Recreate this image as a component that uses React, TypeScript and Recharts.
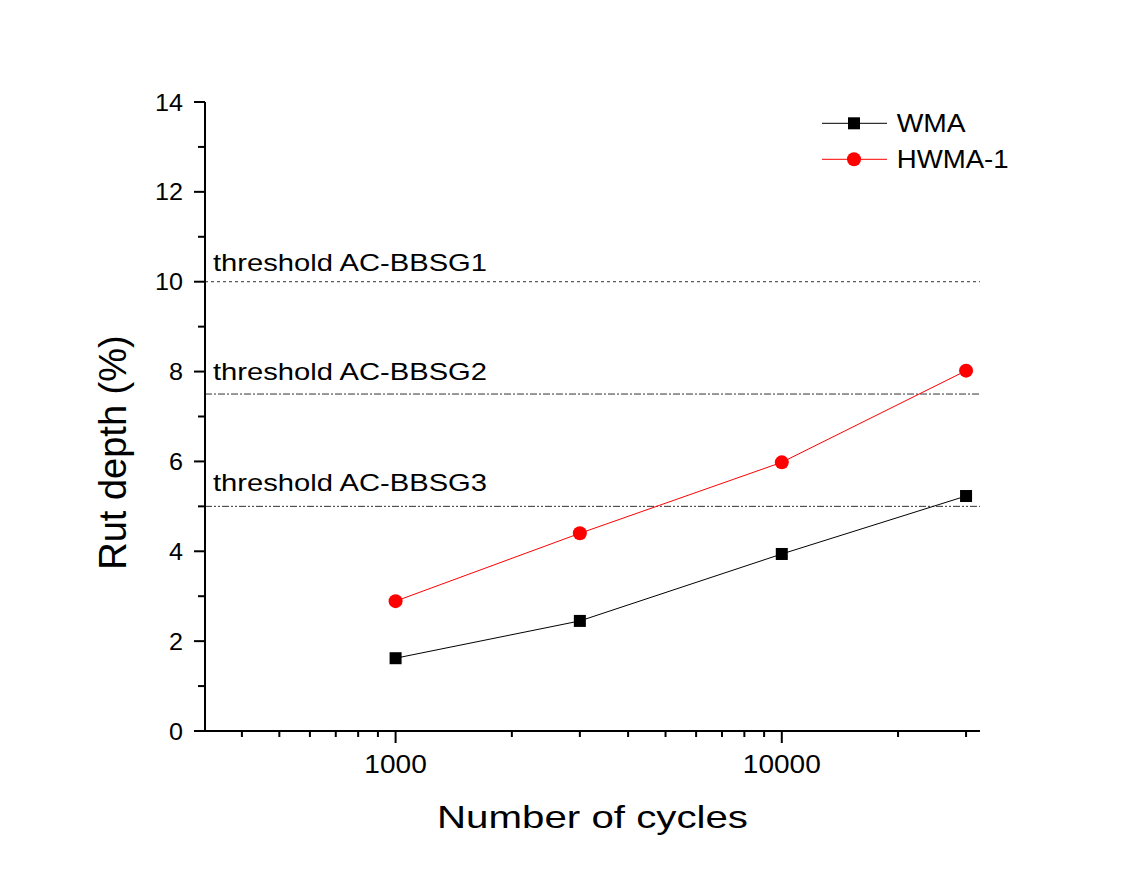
import React from 'react';
import { LineChart, Line, XAxis, YAxis, ReferenceLine } from 'recharts';

// rut depth vs load cycles
const cycles = [1000, 3000, 10000, 30000];
const wmaDepth = [1.62, 2.45, 3.94, 5.23];
const hwmaDepth = [2.89, 4.4, 5.98, 8.02];

const xMajorTicks = [1000, 10000];
const xMinorTicks = [400, 500, 600, 700, 800, 900, 2000, 3000, 4000, 5000, 6000, 7000, 8000, 9000, 20000, 30000];
const yTicks = [0, 1, 2, 3, 4, 5, 6, 7, 8, 9, 10, 11, 12, 13, 14];

const thresholdValues = [10, 7.5, 5];
const thresholdLabels = ['threshold AC-BBSG1', 'threshold AC-BBSG2', 'threshold AC-BBSG3'];

const FONT = '"Liberation Sans", Arial, sans-serif';
const thresholdDash = ['3 3', '7 2 2 2', '7 2 2 2 2 2'];
const thresholdLift = [11, 14, 15];

const data = cycles.map((c, i) => ({ cycles: c, WMA: wmaDepth[i], 'HWMA-1': hwmaDepth[i] }));

const XTick = (props: any) => {
  const { x, y, payload } = props;
  const major = xMajorTicks.includes(payload.value);
  const label = String(payload.value);
  return (
    <g>
      <line x1={x} x2={x} y1={y} y2={y + (major ? 12 : 6)} stroke="#000" strokeWidth={2} />
      {major && (
        <text
          x={x}
          y={y + 42}
          textAnchor="middle"
          fontFamily={FONT}
          fontSize={25}
          textLength={label.length * 15.6}
          lengthAdjust="spacingAndGlyphs"
          fill="#000"
        >
          {label}
        </text>
      )}
    </g>
  );
};

const YTick = (props: any) => {
  const { x, y, payload } = props;
  const major = payload.value % 2 === 0;
  const label = String(payload.value);
  return (
    <g>
      <line x1={x - (major ? 11 : 7)} x2={x} y1={y} y2={y} stroke="#000" strokeWidth={2} />
      {major && (
        <text
          x={x - 22}
          y={y + 8.6}
          textAnchor="end"
          fontFamily={FONT}
          fontSize={24}
          textLength={label.length * 14}
          lengthAdjust="spacingAndGlyphs"
          fill="#000"
        >
          {label}
        </text>
      )}
    </g>
  );
};

const squareDot = (props: any) => (
  <rect key={`sq-${props.index}`} x={props.cx - 6} y={props.cy - 6} width={12} height={12} fill="#000" />
);

const circleDot = (props: any) => (
  <circle key={`ci-${props.index}`} cx={props.cx} cy={props.cy} r={7} fill="#ff0000" />
);

const thresholdLabel = (i: number) => (props: any) => {
  const vb = props.viewBox || {};
  const x = vb.x ?? vb.x1;
  const y = vb.y ?? vb.y1;
  return (
    <text
      x={x + 8}
      y={y - thresholdLift[i]}
      fontFamily={FONT}
      fontSize={24}
      textLength={274}
      lengthAdjust="spacingAndGlyphs"
      fill="#000"
    >
      {thresholdLabels[i]}
    </text>
  );
};

// legend drawn over the chart, top right of the plot
const LegendBox = () => (
  <svg width={220} height={80} style={{ position: 'absolute', left: 813, top: 100 }}>
    <line x1={1} x2={66} y1={15.3} y2={15.3} stroke="#000" strokeWidth={1} />
    <rect x={27} y={9.3} width={12} height={12} fill="#000" />
    <text x={75.7} y={24.3} fontFamily={FONT} fontSize={26.5} textLength={69} lengthAdjust="spacingAndGlyphs">
      WMA
    </text>
    <line x1={1} x2={66} y1={51.3} y2={51.3} stroke="#ff0000" strokeWidth={1} />
    <circle cx={33} cy={51.3} r={7} fill="#ff0000" />
    <text x={75.7} y={60.3} fontFamily={FONT} fontSize={26.5} textLength={112} lengthAdjust="spacingAndGlyphs">
      HWMA-1
    </text>
  </svg>
);

export default function App() {
  return (
    <div style={{ position: 'relative', width: 1115, height: 857 }}>
      <LineChart width={1115} height={857} data={data} margin={{ top: 94, right: 143, bottom: 74, left: 117 }}>
        <XAxis
          dataKey="cycles"
          type="number"
          scale="log"
          domain={[321, 32600]}
          allowDataOverflow
          ticks={[...xMinorTicks, ...xMajorTicks].sort((a, b) => a - b)}
          interval={0}
          tickSize={0}
          tickMargin={0}
          tickLine={false}
          axisLine={{ stroke: '#000', strokeWidth: 2 }}
          tick={XTick}
          height={60}
          label={(props: any) => {
            const vb = props.viewBox;
            return (
              <text
                x={vb.x + vb.width / 2}
                y={vb.y + 97}
                textAnchor="middle"
                fontFamily={FONT}
                fontSize={32}
                textLength={311}
                lengthAdjust="spacingAndGlyphs"
                fill="#000"
              >
                Number of cycles
              </text>
            );
          }}
        />
        <YAxis
          type="number"
          domain={[0, 14]}
          ticks={yTicks}
          interval={0}
          tickSize={0}
          tickMargin={0}
          tickLine={false}
          axisLine={{ stroke: '#000', strokeWidth: 2 }}
          tick={YTick}
          width={80}
          label={(props: any) => {
            const vb = props.viewBox;
            const x = vb.x + vb.width - 79;
            const y = vb.y + vb.height / 2 + 36;
            return (
              <text
                x={x}
                y={y}
                transform={`rotate(-90 ${x} ${y})`}
                textAnchor="middle"
                fontFamily={FONT}
                fontSize={38}
                fill="#000"
              >
                Rut depth (%)
              </text>
            );
          }}
        />
        {thresholdValues.map((v, i) => (
          <ReferenceLine
            key={v}
            y={v}
            stroke="#333"
            strokeWidth={1}
            strokeDasharray={thresholdDash[i]}
            label={thresholdLabel(i)}
          />
        ))}
        <Line
          type="linear"
          dataKey="WMA"
          stroke="#000"
          strokeWidth={1}
          dot={squareDot}
          activeDot={false}
          isAnimationActive={false}
        />
        <Line
          type="linear"
          dataKey="HWMA-1"
          stroke="#ff0000"
          strokeWidth={1}
          dot={circleDot}
          activeDot={false}
          isAnimationActive={false}
        />
      </LineChart>
      <LegendBox />
    </div>
  );
}
